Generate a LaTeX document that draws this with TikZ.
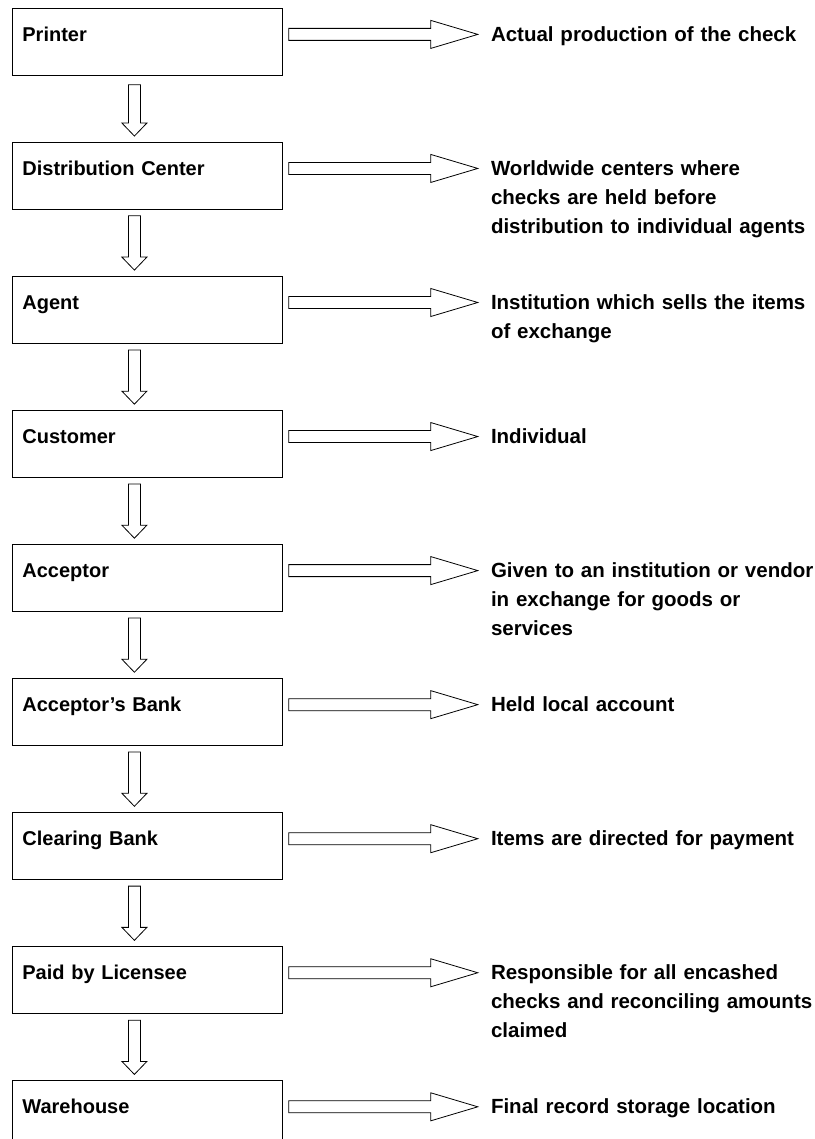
\documentclass[tikz,border=0pt]{standalone}
\usepackage{fontspec}
\setmainfont{Liberation Sans}
\usetikzlibrary{positioning,calc}

\begin{document}
\begin{tikzpicture}[
            x = 1pt, y = 1pt,
            node distance = 66.25pt, % gap between the boxes
            stage/.style = {draw, rectangle, line width=0.8pt, inner xsep=10pt, inner ysep=0pt,
                text width=250pt, align=left, text height=33pt, text depth=34pt,
                font=\bfseries\fontsize{20}{29}\selectfont},
            note/.style = {anchor=base west, inner sep=0pt, text width=330pt, align=left,
                font=\bfseries\fontsize{20.5}{29}\selectfont},
            % hollow block arrows
            fatright/.style = {line width=0.8pt, to path={let \p1=(\tikztostart), \p2=(\tikztotarget) in
                (\x1,\y1+6pt) -- (\x2-47pt,\y1+6pt) -- (\x2-47pt,\y1+14pt) -- (\x2,\y1)
                -- (\x2-47pt,\y1-14pt) -- (\x2-47pt,\y1-6pt) -- (\x1,\y1-6pt) -- cycle}},
            fatdown/.style = {line width=0.8pt, to path={let \p1=(\tikztostart), \p2=(\tikztotarget) in
                (\x1-6pt,\y1) -- (\x1-6pt,\y2+13pt) -- (\x1-12.5pt,\y2+13pt) -- (\x1,\y2)
                -- (\x1+12.5pt,\y2+13pt) -- (\x1+6pt,\y2+13pt) -- (\x1+6pt,\y1) -- cycle}}
        ]

	\useasboundingbox (0,0) rectangle (814,-1139);

	\node[stage, anchor=north west] (printer) at (12,-8) {Printer};
	\node[stage] (distrib) [below=of printer] {Distribution Center};
	\node[stage] (agent) [below=of distrib] {Agent};
	\node[stage] (customer) [below=of agent] {Customer};
	\node[stage] (acceptor) [below=of customer] {Acceptor};
	\node[stage] (accbank) [below=of acceptor] {Acceptor's Bank};
	\node[stage] (clearing) [below=of accbank] {Clearing Bank};
	\node[stage] (licensee) [below=of clearing] {Paid by Licensee};
	\node[stage] (warehouse) [below=of licensee] {Warehouse};

	\node[right=208pt of printer.base east, note] (dprinter) {Actual production of the check};
	\node[right=208pt of distrib.base east, note] (ddistrib) {Worldwide centers where\\checks are held before\\distribution to individual agents};
	\node[right=208pt of agent.base east, note] (dagent) {Institution which sells the items\\of exchange};
	\node[right=208pt of customer.base east, note] (dcustomer) {Individual};
	\node[right=208pt of acceptor.base east, note] (dacceptor) {Given to an institution or vendor\\in exchange for goods or\\services};
	\node[right=208pt of accbank.base east, note] (daccbank) {Held local account};
	\node[right=208pt of clearing.base east, note] (dclearing) {Items are directed for payment};
	\node[right=208pt of licensee.base east, note] (dlicensee) {Responsible for all encashed\\checks and reconciling amounts\\claimed};
	\node[right=208pt of warehouse.base east, note] (dwarehouse) {Final record storage location};

	\draw[fatdown] ([xshift=-13pt,yshift=-9pt]printer.south) to ([xshift=-13pt,yshift=6pt]distrib.north);
	\draw[fatdown] ([xshift=-13pt,yshift=-6pt]distrib.south) to ([xshift=-13pt,yshift=6pt]agent.north);
	\draw[fatdown] ([xshift=-13pt,yshift=-6pt]agent.south) to ([xshift=-13pt,yshift=6pt]customer.north);
	\draw[fatdown] ([xshift=-13pt,yshift=-6pt]customer.south) to ([xshift=-13pt,yshift=6pt]acceptor.north);
	\draw[fatdown] ([xshift=-13pt,yshift=-6pt]acceptor.south) to ([xshift=-13pt,yshift=6pt]accbank.north);
	\draw[fatdown] ([xshift=-13pt,yshift=-6pt]accbank.south) to ([xshift=-13pt,yshift=6pt]clearing.north);
	\draw[fatdown] ([xshift=-13pt,yshift=-6pt]clearing.south) to ([xshift=-13pt,yshift=6pt]licensee.north);
	\draw[fatdown] ([xshift=-13pt,yshift=-6pt]licensee.south) to ([xshift=-13pt,yshift=6pt]warehouse.north);

	\draw[fatright] ([xshift=6pt,yshift=7pt]printer.base east) to ([xshift=-13pt,yshift=7pt]dprinter.base west);
	\draw[fatright] ([xshift=6pt,yshift=7pt]distrib.base east) to ([xshift=-13pt,yshift=7pt]ddistrib.base west);
	\draw[fatright] ([xshift=6pt,yshift=7pt]agent.base east) to ([xshift=-13pt,yshift=7pt]dagent.base west);
	\draw[fatright] ([xshift=6pt,yshift=7pt]customer.base east) to ([xshift=-13pt,yshift=7pt]dcustomer.base west);
	\draw[fatright] ([xshift=6pt,yshift=7pt]acceptor.base east) to ([xshift=-13pt,yshift=7pt]dacceptor.base west);
	\draw[fatright] ([xshift=6pt,yshift=7pt]accbank.base east) to ([xshift=-13pt,yshift=7pt]daccbank.base west);
	\draw[fatright] ([xshift=6pt,yshift=7pt]clearing.base east) to ([xshift=-13pt,yshift=7pt]dclearing.base west);
	\draw[fatright] ([xshift=6pt,yshift=7pt]licensee.base east) to ([xshift=-13pt,yshift=7pt]dlicensee.base west);
	\draw[fatright] ([xshift=6pt,yshift=7pt]warehouse.base east) to ([xshift=-13pt,yshift=7pt]dwarehouse.base west);

\end{tikzpicture}
\end{document}
